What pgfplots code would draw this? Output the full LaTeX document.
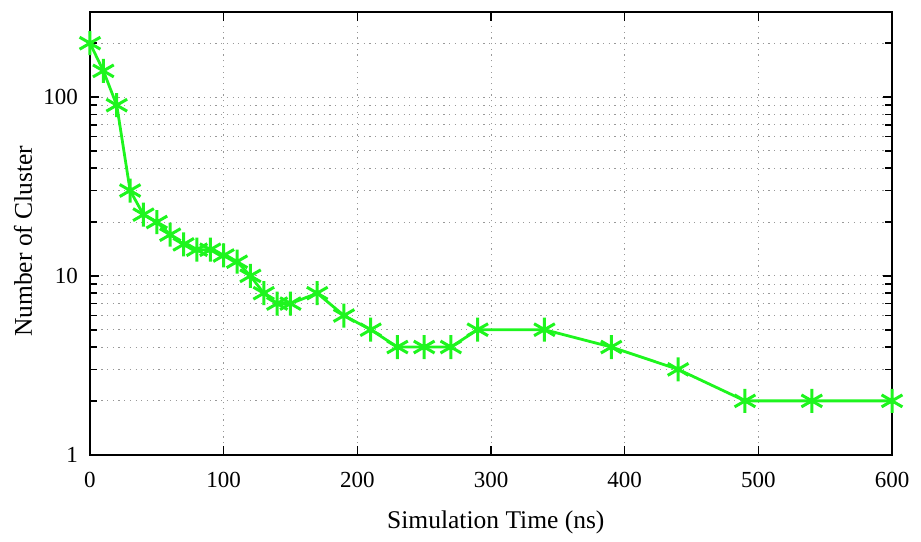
\documentclass[border=0pt]{standalone}
\usepackage{fontspec}
\setmainfont{Liberation Serif}
\usepackage{pgfplots}
\pgfplotsset{compat=1.18}
\definecolor{lgreen}{RGB}{30,245,30}
\begin{document}
\begin{tikzpicture}
\begin{axis}[
  scale only axis, width=802pt, height=443pt,
  at={(0,0)}, anchor=south west,
  xmin=0, xmax=600, ymin=1, ymax=300, ymode=log,
  xtick={0,100,200,300,400,500,600},
  ytick={1,10,100},
  minor ytick={2,3,4,5,6,7,8,9,20,30,40,50,60,70,80,90,200,300},
  log ticks with fixed point,
  /pgf/number format/assume math mode=true,
  tick label style={font=\fontsize{23}{27}\selectfont, inner sep=0pt},
  xticklabel style={anchor=north, yshift=-17pt},
  yticklabel style={anchor=east, xshift=-12pt},
  major tick length=9pt, minor tick length=7pt,
  tick style={black, line width=1.6pt},
  axis line style={black, line width=2.2pt},
  tick align=inside,
  xmajorgrids, ymajorgrids, yminorgrids,
  grid style={gray!80, line width=1pt, dash pattern=on 1.2pt off 4.5pt},
  xlabel={Simulation Time (ns)},
  ylabel={Number of Cluster},
  label style={font=\fontsize{25.5}{30}\selectfont},
  xlabel style={at={(axis description cs:0.506,-0.1535)}, anchor=center},
  ylabel style={at={(axis description cs:-0.0835,0.482)}, anchor=center, rotate=0},
  clip=false,
]
\addplot[color=lgreen, line width=2.8pt, mark=asterisk, mark size=12pt,
  mark options={line width=3pt, solid}] coordinates {
(0,200) (10,140) (20,90) (30,30) (40,22) (50,20) (60,17) (70,15) (80,14) (90,14)
(100,13) (110,12) (120,10) (130,8) (140,7) (150,7) (170,8) (190,6) (210,5)
(230,4) (250,4) (270,4) (290,5) (340,5) (390,4) (440,3) (490,2) (540,2) (600,2)
};
\end{axis}
\pgfresetboundingbox
\path[use as bounding box] (-90pt,-87pt) rectangle (831pt,454.7pt);
\end{tikzpicture}
\end{document}
